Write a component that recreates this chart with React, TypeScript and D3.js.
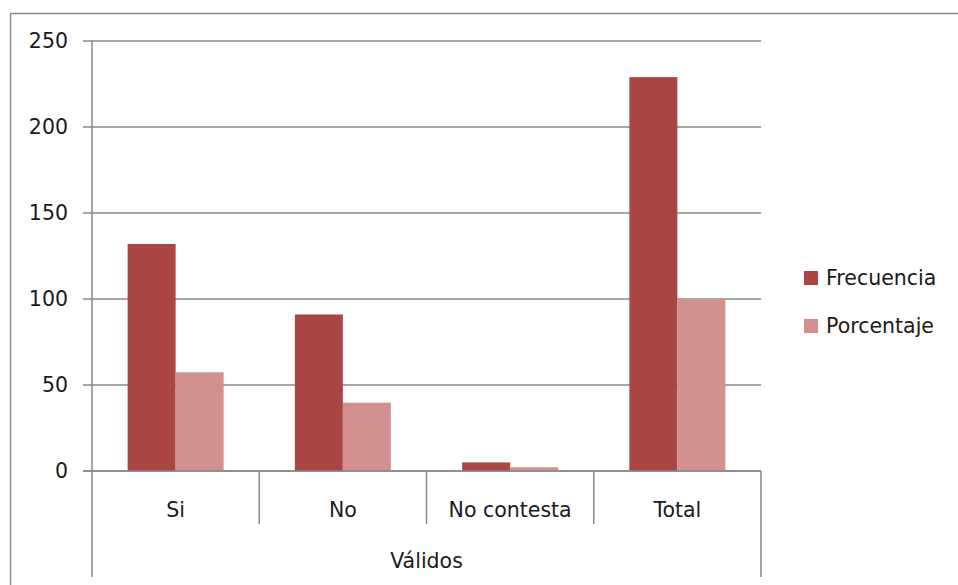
import React from "react";
import * as d3 from "d3";

const categories = ["Si", "No", "No contesta", "Total"];
const groupLabel = "Válidos";
const seriesNames = ["Frecuencia", "Porcentaje"];
const frecuencia = [132, 91, 5, 229];
const porcentaje = [57.4, 39.7, 2.2, 100];
const yTicks = [0, 50, 100, 150, 200, 250];
const colors = ["#A94644", "#D19190"];

const W = 958;
const H = 585;
const FONT = "'DejaVu Sans', sans-serif";

export default function App() {
  const y = d3.scaleLinear().domain([0, 250]).range([471, 41]);
  const x = d3.scaleBand<string>().domain(categories).range([92, 761]).paddingInner(0).paddingOuter(0);
  const bw = x.bandwidth();
  const groupW = bw * 0.574;
  const xSub = d3
    .scaleBand<string>()
    .domain(seriesNames)
    .range([(bw - groupW) / 2, (bw + groupW) / 2]);
  const series = [frecuencia, porcentaje];
  const gridColor = "#8a8a8a";
  const boundaries = categories.slice(1).map((c) => x(c)!);

  return (
    <svg
      width={W}
      height={H}
      style={{ position: "absolute", left: 0, top: 0, display: "block", background: "#fff" }}
      fontFamily={FONT}
    >
      <rect x={10.5} y={13.5} width={W} height={H} fill="#fff" stroke="#8c8c8c" strokeWidth={1.5} />
      {yTicks.map((t) => (
        <g key={t}>
          <line x1={83} x2={761} y1={y(t)} y2={y(t)} stroke={gridColor} strokeWidth={1.5} />
          <text x={68} y={y(t)} dy="0.36em" textAnchor="end" fontSize={20.5} fill="#1a1a1a">
            {t}
          </text>
        </g>
      ))}
      {series.map((vals, si) =>
        categories.map((c, ci) => (
          <rect
            key={`${si}-${ci}`}
            x={x(c)! + xSub(seriesNames[si])!}
            y={y(vals[ci])}
            width={xSub.bandwidth()}
            height={y(0) - y(vals[ci])}
            fill={colors[si]}
          />
        ))
      )}
      <line x1={92} x2={92} y1={41} y2={577} stroke={gridColor} strokeWidth={1.5} />
      <line x1={761} x2={761} y1={y(0)} y2={577} stroke={gridColor} strokeWidth={1.5} />
      <line x1={83} x2={761} y1={y(0)} y2={y(0)} stroke={gridColor} strokeWidth={1.5} />
      {boundaries.map((b, i) => (
        <line key={i} x1={b} x2={b} y1={y(0)} y2={524} stroke={gridColor} strokeWidth={1.5} />
      ))}
      {categories.map((c) => (
        <text key={c} x={x(c)! + bw / 2} y={510} dy="0.36em" textAnchor="middle" fontSize={20.5} fill="#1a1a1a">
          {c}
        </text>
      ))}
      <text x={(92 + 761) / 2} y={561} dy="0.36em" textAnchor="middle" fontSize={20.5} fill="#1a1a1a">
        {groupLabel}
      </text>
      {seriesNames.map((s, i) => (
        <g key={s} transform={`translate(804, ${278 + i * 48})`}>
          <rect x={0} y={-7} width={14} height={14} fill={colors[i]} />
          <text x={22} y={0} dy="0.36em" fontSize={20.5} fill="#1a1a1a">
            {s}
          </text>
        </g>
      ))}
    </svg>
  );
}
